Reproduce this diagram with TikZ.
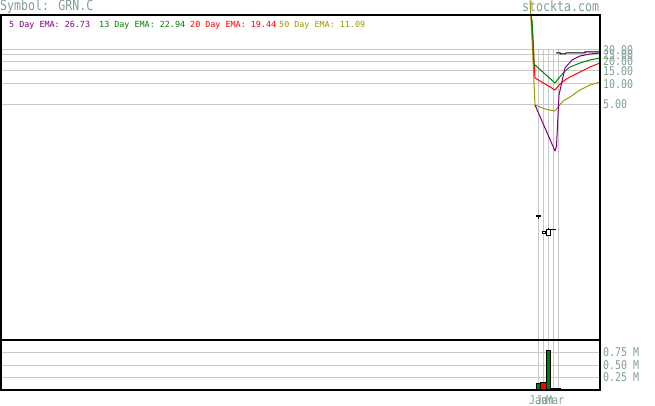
\documentclass[tikz,border=0pt]{standalone}
\usepackage{fontspec}
\setmonofont{DejaVu Sans Mono}
\definecolor{lab}{RGB}{128,160,144}
\definecolor{emapurple}{RGB}{128,0,128}
\definecolor{emagreen}{RGB}{0,128,0}
\definecolor{emared}{RGB}{255,0,0}
\definecolor{emaolive}{RGB}{153,153,0}
\definecolor{gridc}{RGB}{200,200,200}
\newfontfamily\axfont[FakeStretch=0.83]{DejaVu Sans Mono}
\tikzset{
  txt/.style={inner sep=0pt,anchor=west,font=\ttfamily},
  axl/.style={txt,text=lab,font=\axfont\fontsize{12}{12}\selectfont},
  ttl/.style={txt,text=lab,font=\axfont\fontsize{14}{14}\selectfont},
  leg/.style={txt,font=\ttfamily\fontsize{8.4}{8.4}\selectfont},
  gridl/.style={draw=gridc,line width=1pt},
  frame/.style={draw=black,line width=1.5pt},
  ema/.style={line width=1pt,line join=round},
  vbar/.style={draw=black,line width=0.8pt},
}
\begin{document}
\begin{tikzpicture}[x=1pt,y=-1pt]
\useasboundingbox (0,0) rectangle (655,406);
% horizontal grid (price)
\foreach \yy in {50,55,62,71,84,105} \draw[gridl] (0,\yy) -- (600,\yy);
% horizontal grid (volume)
\foreach \yy in {352,365,377.5} \draw[gridl] (0,\yy) -- (600,\yy);
% vertical grid
\foreach \xx in {538,543,548,553,558} \draw[gridl] (\xx,50) -- (\xx,390);
% title
\node[ttl] (title) at (0,6.5) {Symbol: GRN.C};
\node[ttl] (site) at (522,6.5) {stockta.com};
% legend
\node[leg,text=emapurple] (l5) at (9,25) {5 Day EMA: 26.73};
\node[leg,text=emagreen] (l13) at (99,25) {13 Day EMA: 22.94};
\node[leg,text=emared] (l20) at (190,25) {20 Day EMA: 19.44};
\node[leg,text=emaolive] (l50) at (279,25) {50 Day EMA: 11.09};
% axis labels
\node[axl] (a30) at (603,50) {30.00};
\node[axl] (a25) at (603,55) {25.00};
\node[axl] (a20) at (603,61.5) {20.00};
\node[axl] (a15) at (603,71) {15.00};
\node[axl] (a10) at (603,84) {10.00};
\node[axl] (a5) at (603,104.5) {5.00};
\node[axl] (v75) at (603,352) {0.75 M};
\node[axl] (v50) at (603,365) {0.50 M};
\node[axl] (v25) at (603,377.5) {0.25 M};
\node[axl] (d1) at (529,400) {Jan};
\node[axl] (d2) at (536,400) {Jan};
\node[axl] (d3) at (546,400) {Mar};
% EMA lines
\draw[ema,emaolive] (530,0) -- (533,60) -- (535,105) -- (545,109) -- (555,111) -- (558,107) -- (563,101) -- (570,97) -- (580,90) -- (590,85) -- (600,82);
\draw[ema,emared] (531,14) -- (532,25) -- (533,40) -- (534,60) -- (535,78) -- (555,90) -- (559,85) -- (565,80) -- (570,77) -- (580,72) -- (590,67) -- (600,63);
\draw[ema,emagreen] (532,20) -- (533,40) -- (534,64) -- (535,65) -- (555,83) -- (558,79) -- (565,71) -- (570,67) -- (580,63) -- (590,60) -- (600,58);
\draw[ema,emapurple] (535,105) -- (555,151) -- (556.5,146) -- (559,95) -- (560.5,88) -- (565,68) -- (572,60) -- (580,56) -- (590,54) -- (600,53);
% close line
\draw[black,line width=1pt] (556,53) -- (560,53) -- (560,54) -- (565,54) -- (566,53) -- (585,53) -- (585,52) -- (600,52);
% candles
\draw[black,line width=1.5pt] (536,216) -- (541,216);
\draw[black,line width=1pt] (538.5,216) -- (538.5,219);
\draw[black,line width=0.8pt,fill=white] (542,231) rectangle (545.5,233.5);
\draw[black,line width=0.8pt] (550,229) -- (556,229);
\draw[black,line width=0.8pt] (548,228) -- (548,229);
\draw[black,line width=0.8pt,fill=white] (546,229) rectangle (550,235);
% volume bars
\draw[vbar,fill=emagreen] (536,383) rectangle (540,390);
\draw[vbar,fill=emared] (540.5,382) rectangle (546,390);
\draw[vbar,fill=emagreen] (546,350) rectangle (550.5,390);
\draw[vbar,fill=emagreen] (551.5,388.3) rectangle (555.5,390);
\draw[vbar,fill=emagreen] (556,388.3) rectangle (560,390);
% frame
\draw[frame] (0.75,15) rectangle (600,390);
\draw[frame] (0.75,340) -- (600,340);
\draw[black,line width=2pt] (558,389.5) -- (600,389.5);
\end{tikzpicture}
\end{document}
